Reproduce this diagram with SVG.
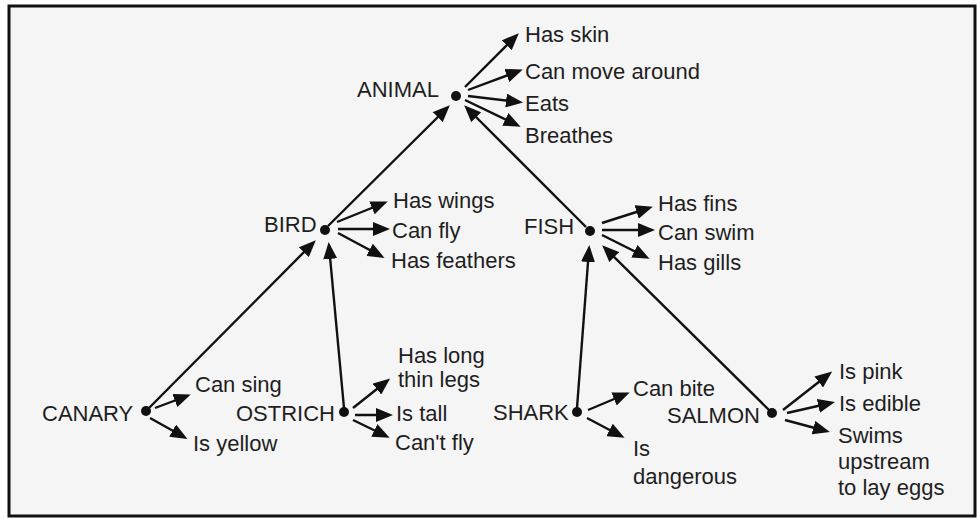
<svg xmlns="http://www.w3.org/2000/svg" width="977" height="518" viewBox="0 0 977 518">
<style>
text{font-family:"Liberation Sans",Arial,Helvetica,sans-serif;font-size:22px;fill:#1e1e1e}
.dot{fill:#111}
.c line{stroke:#111;stroke-width:2.4;marker-end:url(#ah)}
</style>
<defs>
<marker id="ah" markerUnits="userSpaceOnUse" markerWidth="17" markerHeight="14" refX="13" refY="7" orient="auto">
<path d="M0,0 L17,7 L0,14 z" fill="#111"/>
</marker>
</defs>
<rect x="0" y="0" width="977" height="518" fill="#ffffff"/>
<rect x="9" y="6" width="966" height="510" fill="#f5f5f5" stroke="#111" stroke-width="3"/>
<g class="c" id="connectors">
<line x1="465" y1="87" x2="516" y2="36"/>
<line x1="468" y1="90" x2="519" y2="71"/>
<line x1="468" y1="96" x2="519" y2="102"/>
<line x1="465" y1="100" x2="517" y2="125"/>
<line x1="328" y1="226" x2="447" y2="108"/>
<line x1="586" y1="227" x2="467" y2="108"/>
<line x1="337" y1="222" x2="384" y2="203"/>
<line x1="338" y1="229" x2="386" y2="229"/>
<line x1="338" y1="233" x2="381" y2="256"/>
<line x1="149" y1="408" x2="313" y2="243"/>
<line x1="344" y1="408" x2="329" y2="246"/>
<line x1="602" y1="223" x2="649" y2="208"/>
<line x1="602" y1="230" x2="651" y2="230"/>
<line x1="602" y1="235" x2="646" y2="257"/>
<line x1="577" y1="408" x2="589" y2="249"/>
<line x1="769" y1="410" x2="605" y2="248"/>
<line x1="155" y1="408" x2="187" y2="396"/>
<line x1="150" y1="418" x2="184" y2="437"/>
<line x1="353" y1="408" x2="387" y2="381"/>
<line x1="355" y1="415" x2="389" y2="415"/>
<line x1="353" y1="420" x2="386" y2="436"/>
<line x1="588" y1="410" x2="626" y2="394"/>
<line x1="587" y1="418" x2="621" y2="436"/>
<line x1="783" y1="410" x2="829" y2="374"/>
<line x1="787" y1="413" x2="831" y2="403"/>
<line x1="785" y1="420" x2="826" y2="431"/>
</g>
<g id="animal"><circle class="dot" cx="456" cy="96" r="5"/><text x="357" y="97">ANIMAL</text></g>
<g id="has-skin"><text x="525" y="42">Has skin</text></g>
<g id="can-move-around"><text x="525" y="79">Can move around</text></g>
<g id="eats"><text x="525" y="111">Eats</text></g>
<g id="breathes"><text x="525" y="143">Breathes</text></g>
<g id="bird"><circle class="dot" cx="325" cy="230" r="5"/><text x="264" y="232">BIRD</text></g>
<g id="has-wings"><text x="393" y="208">Has wings</text></g>
<g id="can-fly"><text x="392" y="238">Can fly</text></g>
<g id="has-feathers"><text x="391" y="268">Has feathers</text></g>
<g id="fish"><circle class="dot" cx="590" cy="231" r="5"/><text x="524" y="234">FISH</text></g>
<g id="has-fins"><text x="658" y="211">Has fins</text></g>
<g id="can-swim"><text x="658" y="240">Can swim</text></g>
<g id="has-gills"><text x="658" y="270">Has gills</text></g>
<g id="canary"><circle class="dot" cx="146" cy="411" r="5"/><text x="42" y="421">CANARY</text></g>
<g id="can-sing"><text x="195" y="392">Can sing</text></g>
<g id="is-yellow"><text x="193" y="451">Is yellow</text></g>
<g id="ostrich"><circle class="dot" cx="344" cy="412" r="5"/><text x="236" y="421">OSTRICH</text></g>
<g id="has-long-thin-legs"><text x="398" y="363">Has long</text><text x="398" y="387">thin legs</text></g>
<g id="is-tall"><text x="396" y="421">Is tall</text></g>
<g id="cant-fly"><text x="395" y="450">Can't fly</text></g>
<g id="shark"><circle class="dot" cx="577" cy="412" r="5"/><text x="493" y="420">SHARK</text></g>
<g id="can-bite"><text x="633" y="396">Can bite</text></g>
<g id="is-dangerous"><text x="633" y="456">Is</text><text x="633" y="484">dangerous</text></g>
<g id="salmon"><circle class="dot" cx="772" cy="413" r="5"/><text x="667" y="423">SALMON</text></g>
<g id="is-pink"><text x="839" y="379">Is pink</text></g>
<g id="is-edible"><text x="839" y="411">Is edible</text></g>
<g id="swims-upstream"><text x="838" y="443">Swims</text><text x="838" y="469">upstream</text><text x="838" y="495">to lay eggs</text></g>
</svg>
